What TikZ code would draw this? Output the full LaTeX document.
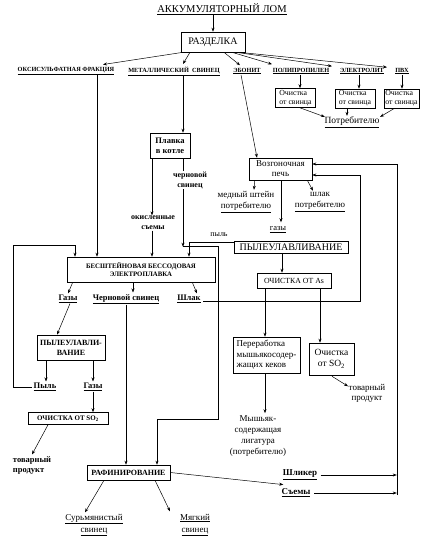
\documentclass[tikz,border=0pt]{standalone}
\usepackage{fontspec}
\setmainfont{Liberation Serif}
\usetikzlibrary{arrows.meta,calc}
\newcommand\fsz[2]{\fontsize{#1}{#2}\selectfont}
\begin{document}
\begin{tikzpicture}[x=1pt,y=-1pt,
 box/.style={draw,line width=0.6pt,inner sep=1pt,align=center},
 lab/.style={inner sep=0.5pt,align=center},
 sm/.style={font=\fsz{6.3}{7}\bfseries},
 arr/.style={-{Stealth[length=4pt,width=3pt]},line width=0.5pt},
 ln/.style={line width=0.5pt}]
\useasboundingbox (0,0) rectangle (425,550);
\fill[white] (0,0) rectangle (425,550);
% ---- top
\node[lab,font=\fsz{10.5}{12}] (title) at (222,9) {\underline{АККУМУЛЯТОРНЫЙ ЛОМ}};
\node[box,minimum width=64,minimum height=20,font=\fsz{10}{12}] (razd) at (213,42) {РАЗДЕЛКА};
\node[lab,sm] (oks) at (66,71) {\underline{ОКСИСУЛЬФАТНАЯ ФРАКЦИЯ}};
\node[lab,sm] (met) at (174,71) {\underline{МЕТАЛЛИЧЕСКИЙ\ \ СВИНЕЦ}};
\node[lab,sm] (ebon) at (247,71) {\underline{ЭБОНИТ}};
\node[lab,sm] (poli) at (301,71) {\underline{ПОЛИПРОПИЛЕН}};
\node[lab,sm] (elek) at (362,71) {\underline{ЭЛЕКТРОЛИТ}};
\node[lab,sm] (pvh) at (402,71) {\underline{ПВХ}};
\node[box,font=\fsz{7.8}{8.8},align=left,minimum width=40,minimum height=19] (c1) at (295.5,98) {Очистка\\от свинца};
\node[box,font=\fsz{7.8}{8.8},align=left,minimum width=40,minimum height=19] (c2) at (355,98.5) {Очистка\\от свинца};
\node[box,font=\fsz{7.8}{8.8},align=left,minimum width=35,minimum height=19] (c3) at (401.5,98.5) {Очистка\\от свинца};
\node[lab,font=\fsz{9.5}{11}] (potr) at (352,122) {\underline{Потребителю}};
% ---- middle
\node[box,font=\fsz{8.5}{10}\bfseries,minimum width=40,minimum height=25] (plav) at (170,145.5) {Плавка\\в котле};
\node[lab,font=\fsz{8}{10}\bfseries] (oksl) at (153,223) {окисленные\\съемы};
\node[lab,font=\fsz{8}{10}\bfseries] (chern) at (190,180) {черновой\\свинец};
\node[box,font=\fsz{9}{10},minimum width=63,minimum height=22] (vozg) at (280.5,169) {Возгоночная\\печь};
\node[lab,font=\fsz{9}{11}] (medn) at (246,202) {медный штейн\\\underline{потребителю}};
\node[lab,font=\fsz{9}{11}] (shl2) at (320,202) {шлак\\\underline{потребителю}};
\node[lab,font=\fsz{8.5}{10}] (gazy2) at (278,230) {\underline{газы}};
\node[box,font=\fsz{10}{11},inner sep=0pt,minimum width=114,minimum height=12] (pyl2) at (291,247) {ПЫЛЕУЛАВЛИВАНИЕ};
\node[lab,font=\fsz{8}{9}] (pyltxt) at (219,235) {пыль};
\node[box,font=\fsz{7.8}{8.5},minimum width=74,minimum height=15] (ochAs) at (294,280.5) {ОЧИСТКА ОТ As};
\node[box,font=\fsz{9}{10.5},align=left,minimum width=67,minimum height=36] (perer) at (266.5,355) {Переработка\\мышьякосодер-\\жащих кеков};
\node[box,font=\fsz{9.5}{11},minimum width=45,minimum height=32] (ochSO2r) at (331.5,359) {Очистка\\от SO\textsubscript{2}};
\node[lab,font=\fsz{9}{10}] (tov2) at (367,393) {товарный\\продукт};
\node[lab,font=\fsz{9}{10.8}] (mysh) at (258,436) {Мышьяк-\\содержащая\\лигатура\\(потребителю)};
\node[box,font=\fsz{6.8}{8.5}\bfseries,minimum width=148,minimum height=25] (elec) at (141,269.5) {БЕСШТЕЙНОВАЯ БЕССОДОВАЯ\\ЭЛЕКТРОПЛАВКА};
\node[lab,font=\fsz{8.5}{10}\bfseries] (gazy1) at (68,299) {\underline{Газы}};
\node[lab,font=\fsz{8.5}{10}\bfseries] (chsv) at (126,299) {\underline{Черновой свинец}};
\node[lab,font=\fsz{8.5}{10}\bfseries] (shlak1) at (189,299) {\underline{Шлак}};
\node[box,font=\fsz{8}{10}\bfseries,minimum width=68,minimum height=25] (pyl1) at (71,347.5) {ПЫЛЕУЛАВЛИ-\\ВАНИЕ};
\node[lab,font=\fsz{8.5}{10}\bfseries] (pylL) at (45,387) {\underline{Пыль}};
\node[lab,font=\fsz{8.5}{10}\bfseries] (gazyL) at (93,387) {\underline{Газы}};
\node[box,font=\fsz{7}{8}\bfseries,inner sep=0pt,minimum width=80,minimum height=12] (ochSO2l) at (68,418.5) {ОЧИСТКА ОТ SO\textsubscript{2}};
\node[lab,font=\fsz{8.5}{10}\bfseries,align=left] (tov1) at (32,465) {товарный\\продукт};
\node[box,font=\fsz{8}{9}\bfseries,minimum width=83,minimum height=15] (raf) at (128.5,472.5) {РАФИНИРОВАНИЕ};
\node[lab,font=\fsz{9}{12}] (sur) at (94,525) {\underline{Сурьмянистый}\\\underline{свинец}};
\node[lab,font=\fsz{9}{12}] (myag) at (195,525) {\underline{Мягкий}\\\underline{свинец}};
\node[lab,font=\fsz{9}{10}\bfseries] (shlik) at (300,475) {\underline{Шликер}};
\node[lab,font=\fsz{9}{10}\bfseries] (sem) at (296,493) {\underline{Съемы}};
% ---- connectors
\draw[arr] (razd.north |- title.south) -- (razd.north);
\draw[arr] ($(razd.south)+(-30,0)$) -- ($(oks.north)+(37,-2)$);
\draw[arr] ($(razd.south)+(-23,0)$) -- ($(met.north)+(9,-2)$);
\draw[arr] ($(razd.south)+(11,0)$) -- ($(ebon.north)+(-7,-2)$);
\draw[arr] ($(razd.south)+(19,0)$) -- ($(poli.north)+(-29,-3)$);
\draw[arr] ($(razd.south)+(23,0)$) -- ($(elek.north)+(-30,-1)$);
\draw[arr] ($(razd.south)+(26,0)$) -- ($(pvh.north)+(-15,0)$);
\draw[arr] ([xshift=-1pt]poli.south) -- ([xshift=4.5pt]c1.north);
\draw[arr] ([xshift=-3pt]elek.south) -- ([xshift=4pt]c2.north);
\draw[arr] (pvh.south) -- ([xshift=0.5pt]c3.north);
\draw[arr] ($(c1.south)+(4.5,0)$) -- ($(potr.north west)+(1,1)$);
\draw[arr] ([xshift=-8pt]c2.south) -- ([xshift=-5pt]potr.north);
\draw[arr] ($(c3.south)+(-7,0)$) -- ($(potr.north east)+(0,1)$);
\draw[arr] ([xshift=31pt]oks.south) -- ([xshift=-44pt]elec.north);
\draw[arr] ([xshift=9pt]met.south) -- ([xshift=13pt]plav.north);
\draw[arr] ([xshift=-18pt]plav.south) -- ([xshift=-1pt]oksl.north);
\draw[arr] ([xshift=-1pt]oksl.south) -- ([xshift=11pt]elec.north);
\draw[ln] ([xshift=13pt]plav.south) -- ([xshift=-7pt]chern.north);
\coordinate (j) at ($(elec.north)+(42,-10)$);
\coordinate (j2) at ($(elec.north east)+(3,-10)$);
\coordinate (j3) at ($(raf.north)+(28.5,-45)$);
\draw[arr] ([xshift=-7pt]chern.south) -- (j);
\draw[arr] (j) -- (j2) |- (j3) -- (j3 |- raf.north);
\draw[arr] ($(ebon.south)+(-6,0)$) -- ($(vozg.north)+(-23.5,0)$);
\draw[arr] ($(vozg.south west)+(6,0)$) -- ($(medn.north)+(8,-1)$);
\draw[arr] ($(vozg.south east)+(-5,0)$) -- ($(shl2.north)+(-7,-1)$);
\draw[arr] ([xshift=0.5pt]vozg.south) -- ($(gazy2.north)+(3,-4)$);
\draw[arr] ($(pyl2.north west)+(0,2)$) -| ([xshift=48pt]elec.north);
\draw[arr] ([xshift=-9pt]pyl2.south) -- ([xshift=-12pt]ochAs.north);
\draw[arr] ([xshift=-29pt]ochAs.south) -- ([xshift=-1.5pt]perer.north);
\draw[arr] ([xshift=26pt]ochAs.south) -- ([xshift=-11.5pt]ochSO2r.north);
\draw[arr] ($(ochSO2r.south)+(0.5,1)$) -- ($(tov2.north west)+(0,3)$);
\draw[arr] ([xshift=-1.5pt]perer.south) -- ($(mysh.north)+(7,-2)$);
\coordinate (v1) at ($(vozg.east)+(47.5,6)$);
\draw[arr] ($(shlak1.east)+(2,2)$) -| (v1) -- ($(vozg.east)+(0,6)$);
\coordinate (r1) at ($(vozg.east)+(84.5,-5)$);
\draw[arr] ($(shlik.east)+(3,0)$) -- (shlik.east -| r1);
\draw[arr] ($(sem.east)+(3,0)$) -- (sem.east -| r1);
\draw[arr] ($(sem.east -| r1)+(0,2)$) -- (r1) -- ($(vozg.east)+(0,-5)$);
\draw[arr] ($(elec.south west)+(6,0)$) -- ($(gazy1.north)+(0,-1)$);
\draw[arr] ([xshift=-8pt]elec.south) -- ($(chsv.north)+(7,-1)$);
\draw[arr] ($(elec.south east)+(-23,0)$) -- ($(shlak1.north)+(8,-1)$);
\draw[arr] ($(gazy1.south)+(2,0)$) -- ($(pyl1.north)+(-14,0)$);
\draw[arr] ([xshift=-25pt]pyl1.south) -- ($(pylL.north)+(1,-1)$);
\draw[arr] ([xshift=22pt]pyl1.south) -- ($(gazyL.north)+(0,-1)$);
\coordinate (l1) at ($(elec.north west)+(-53,-11)$);
\draw[arr] ($(pylL.west)+(-1,0)$) -| (l1) -| ([xshift=-66pt]elec.north);
\draw[arr] (gazyL.south) -- ([xshift=25pt]ochSO2l.north);
\draw[arr] ($(ochSO2l.south)+(-20,0)$) -- ($(tov1.north)+(0,-1)$);
\draw[arr] (chsv.south) -- ([xshift=-2.5pt]raf.north);
\draw[arr] ($(raf.south)+(-24.5,0)$) -- ($(sur.north)+(-9,-1)$);
\draw[arr] ($(raf.south)+(26.5,0)$) -- ($(myag.north)+(-25,-2)$);
\draw[arr] (raf.east) -- ($(shlik.south west)+(1,4)$);
\end{tikzpicture}
\end{document}
